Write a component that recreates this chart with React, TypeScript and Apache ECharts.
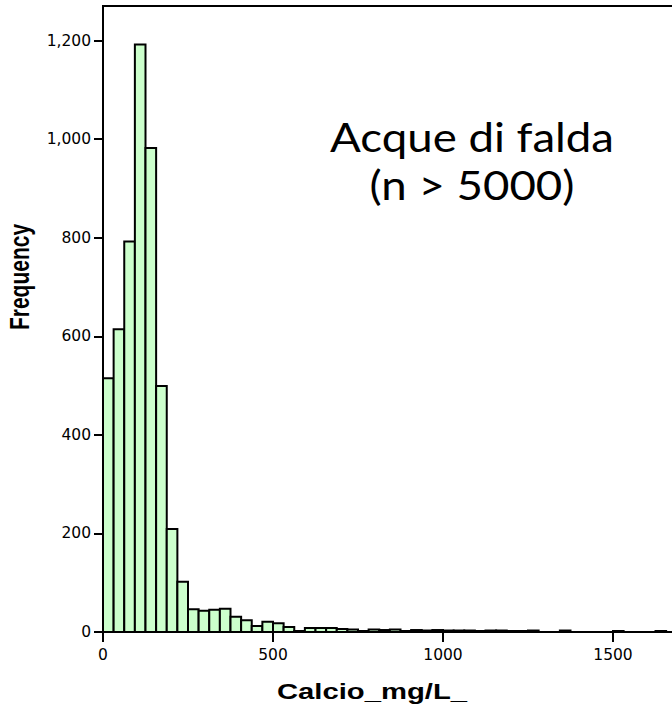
import React, { useEffect, useRef } from "react";
import * as echarts from "echarts";

const binWidth = 31.25;
const counts: number[] = [
  515, 614, 792, 1192, 982, 499, 209, 102, 46, 43, 45, 47, 31, 24, 12, 21, 18, 10,
  2, 8, 8, 8, 6, 5, 2, 5, 4, 5, 2, 4, 3, 4, 3, 3, 3, 2, 3, 3, 2, 2, 3, 0, 0, 3,
  0, 0, 0, 0, 2, 0, 0, 0, 2, 0,
];
const yTicks: number[] = [0, 200, 400, 600, 800, 1000, 1200];
const xTicks: number[] = [0, 500, 1000, 1500];
const xTitle = "Calcio_mg/L_";
const yTitle = "Frequency";
const noteLines: string[] = ["Acque di falda", "(n > 5000)"];

export default function App() {
  const ref = useRef<HTMLDivElement>(null);
  useEffect(() => {
    if (!ref.current) return;
    const chart = echarts.init(ref.current, null, { renderer: "svg" });
    const data = counts
      .map((c, i) => [i * binWidth, (i + 1) * binWidth, c])
      .filter((d) => d[2] > 0);
    chart.setOption({
      animation: false,
      backgroundColor: "#ffffff",
      grid: {
        left: 103,
        top: 6,
        bottom: 76,
        right: 45,
        show: true,
        borderColor: "#000",
        borderWidth: 2,
        backgroundColor: "transparent",
      },
      xAxis: {
        type: "value",
        min: 0,
        max: 1800,
        interval: 500,
        splitLine: { show: false },
        axisLine: { show: true, onZero: false, lineStyle: { color: "#000", width: 2 } },
        axisTick: { show: true, length: 10, customValues: xTicks, lineStyle: { color: "#000", width: 2 } },
        axisLabel: {
          customValues: xTicks,
          color: "#000",
          fontFamily: "DejaVu Sans",
          fontSize: 15.5,
          margin: 15,
          formatter: (v: number) => String(v),
        },
      },
      yAxis: {
        type: "value",
        min: 0,
        max: 1270,
        interval: 200,
        splitLine: { show: false },
        axisLine: { show: true, onZero: false, lineStyle: { color: "#000", width: 2 } },
        axisTick: { show: true, length: 9, customValues: yTicks, lineStyle: { color: "#000", width: 2 } },
        axisLabel: {
          customValues: yTicks,
          color: "#000",
          fontFamily: "DejaVu Sans",
          fontSize: 15.5,
          margin: 12,
          formatter: (v: number) => v.toLocaleString("en-US"),
        },
      },
      graphic: [
        {
          type: "text",
          x: 372,
          y: 691,
          scaleX: 1.3,
          style: {
            text: xTitle,
            fill: "#000",
            font: "bold 22.5px 'Liberation Sans'",
            align: "center",
            verticalAlign: "middle",
          },
        },
        {
          type: "text",
          x: 19,
          y: 277,
          rotation: Math.PI / 2,
          scaleY: 1.35,
          style: {
            text: yTitle,
            fill: "#000",
            font: "bold 21px 'Liberation Sans'",
            align: "center",
            verticalAlign: "middle",
          },
        },
        {
          type: "text",
          x: 472,
          y: 137,
          scaleX: 1.14,
          style: {
            text: noteLines[0],
            fill: "#000",
            font: "40px Lato",
            align: "center",
            verticalAlign: "middle",
          },
        },
        {
          type: "text",
          x: 472,
          y: 185,
          scaleX: 1.14,
          style: {
            text: noteLines[1],
            fill: "#000",
            font: "40px Lato",
            align: "center",
            verticalAlign: "middle",
          },
        },
      ],
      series: [
        {
          type: "custom",
          data,
          clip: true,
          renderItem: (params: any, api: any) => {
            const x0 = api.value(0);
            const x1 = api.value(1);
            const y = api.value(2);
            const p0 = api.coord([x0, y]);
            const p1 = api.coord([x1, 0]);
            return {
              type: "rect",
              shape: { x: p0[0], y: p0[1], width: p1[0] - p0[0], height: p1[1] - p0[1] },
              style: { fill: "#ccffcc", stroke: "#000", lineWidth: 2 },
            };
          },
        },
      ],
    });
    return () => chart.dispose();
  }, []);
  return (
    <div style={{ position: "fixed", left: 0, top: 0, width: 672, height: 708, overflow: "hidden", background: "#fff" }}>
      <div ref={ref} style={{ width: 760, height: 708 }} />
    </div>
  );
}
